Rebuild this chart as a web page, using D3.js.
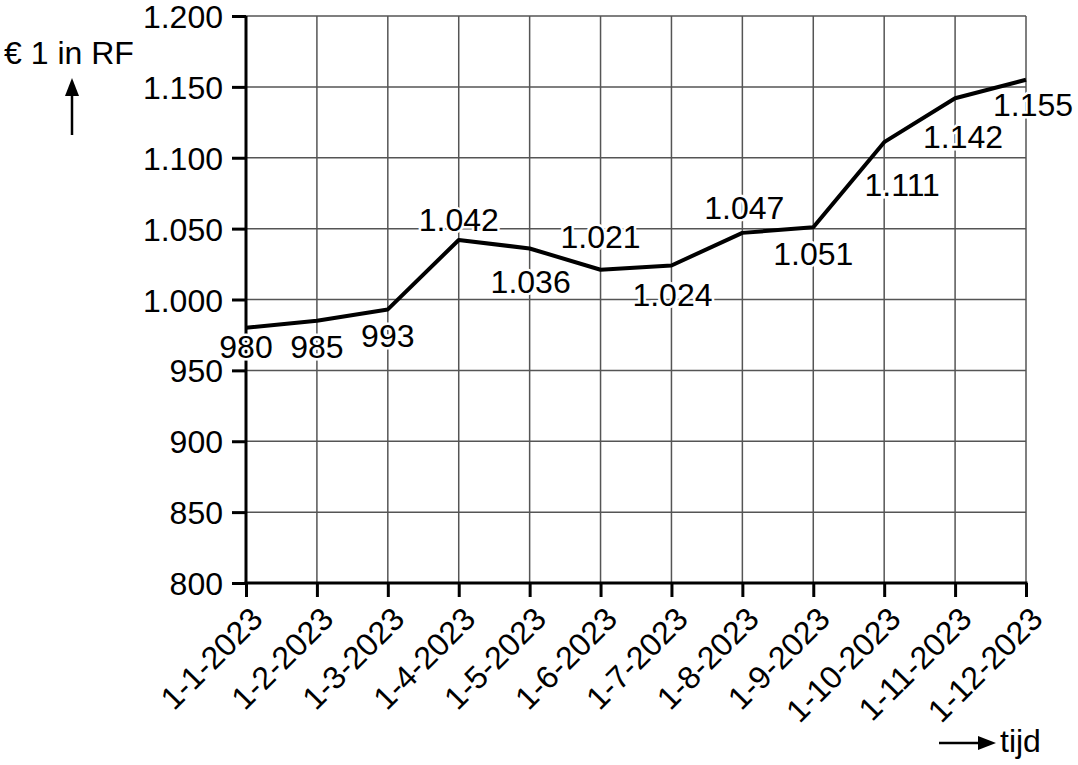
<!DOCTYPE html>
<html><head><meta charset="utf-8">
<script src="https://cdn.jsdelivr.net/npm/d3@7"></script>
<style>body{margin:0;background:#fff}svg{display:block}text{font-family:"Liberation Sans",Arial,sans-serif;fill:#000}</style>
</head><body><svg id="c" width="1078" height="765"></svg>
<script>
const categories = ["1-1-2023","1-2-2023","1-3-2023","1-4-2023","1-5-2023","1-6-2023","1-7-2023","1-8-2023","1-9-2023","1-10-2023","1-11-2023","1-12-2023"];
const values = [980,985,993,1042,1036,1021,1024,1047,1051,1111,1142,1155];
const valueLabels = ["980","985","993","1.042","1.036","1.021","1.024","1.047","1.051","1.111","1.142","1.155"];
const yTicks = [800,850,900,950,1000,1050,1100,1150,1200];
const yTickLabels = ["800","850","900","950","1.000","1.050","1.100","1.150","1.200"];
// label placement offsets (px) relative to each point: [dx, dy to baseline]
const labelOffsets = [[0,30],[0,37],[0,38],[0,-9],[1,45],[0,-22],[1,41],[2,-14],[0,38],[18,54],[8,50],[7,36]];

const svg = d3.select("#c");
const L = 246, R = 1026, T = 16, B = 583;
const x = d3.scalePoint().domain(categories).range([L, R]);
const y = d3.scaleLinear().domain([800, 1200]).range([B, T]);
const FS = 32;

// grid
svg.append("g").selectAll("line.h").data(yTicks).join("line")
  .attr("x1", L).attr("x2", R).attr("y1", d => y(d)).attr("y2", d => y(d))
  .attr("stroke", "#555").attr("stroke-width", 1.5);
svg.append("g").selectAll("line.v").data(categories).join("line")
  .attr("x1", d => x(d)).attr("x2", d => x(d)).attr("y1", T).attr("y2", B)
  .attr("stroke", "#555").attr("stroke-width", 1.5);

// y axis
const yAxis = d3.axisLeft(y).tickValues(yTicks).tickSize(14).tickPadding(9)
  .tickFormat((d, i) => yTickLabels[i]);
const gy = svg.append("g").attr("transform", `translate(${L},0)`).call(yAxis);
gy.select(".domain").attr("stroke", "#000").attr("stroke-width", 3).attr("d", `M0,${T}V${B}`);
gy.selectAll(".tick line").attr("stroke", "#000").attr("stroke-width", 3);
gy.selectAll(".tick text").attr("font-size", FS).attr("font-family", '"Liberation Sans",Arial,sans-serif').attr("fill", "#000").attr("dy", "0.36em");

// x axis
const xAxis = d3.axisBottom(x).tickSize(14).tickFormat(d => d);
const gx = svg.append("g").attr("transform", `translate(0,${B})`).call(xAxis);
gx.select(".domain").attr("stroke", "#000").attr("stroke-width", 3).attr("d", `M${L-1.5},0H${R+1.5}`);
gx.selectAll(".tick line").attr("stroke", "#000").attr("stroke-width", 3);
gx.selectAll(".tick text").attr("font-size", FS).attr("font-family", '"Liberation Sans",Arial,sans-serif').attr("fill", "#000")
  .attr("y", 0).attr("dy", 0).attr("text-anchor", "end")
  .attr("transform", "translate(18,38) rotate(-45)");

// line
const line = d3.line().x((d, i) => x(categories[i])).y(d => y(d));
svg.append("path").datum(values).attr("d", line).attr("fill", "none")
  .attr("stroke", "#000").attr("stroke-width", 4).attr("stroke-linejoin", "round");

// value labels
svg.append("g").selectAll("text").data(values).join("text")
  .attr("x", (d, i) => x(categories[i]) + labelOffsets[i][0])
  .attr("y", (d, i) => y(d) + labelOffsets[i][1])
  .attr("text-anchor", "middle").attr("font-size", FS)
  .attr("stroke", "#fff").attr("stroke-width", 5).attr("paint-order", "stroke")
  .text((d, i) => valueLabels[i]);

// y title and arrow
svg.append("text").attr("x", 4).attr("y", 64).attr("font-size", FS).text("€ 1 in RF");
svg.append("line").attr("x1", 72).attr("x2", 72).attr("y1", 135).attr("y2", 92).attr("stroke", "#000").attr("stroke-width", 2.5);
svg.append("path").attr("d", "M72,78 L65,96 L79,96 Z").attr("fill", "#000");

// x title and arrow
svg.append("line").attr("x1", 939).attr("x2", 982).attr("y1", 743).attr("y2", 743).attr("stroke", "#000").attr("stroke-width", 2.5);
svg.append("path").attr("d", "M996,743 L978,736 L978,750 Z").attr("fill", "#000");
svg.append("text").attr("x", 1000).attr("y", 752).attr("font-size", FS).text("tijd");
</script></body></html>
